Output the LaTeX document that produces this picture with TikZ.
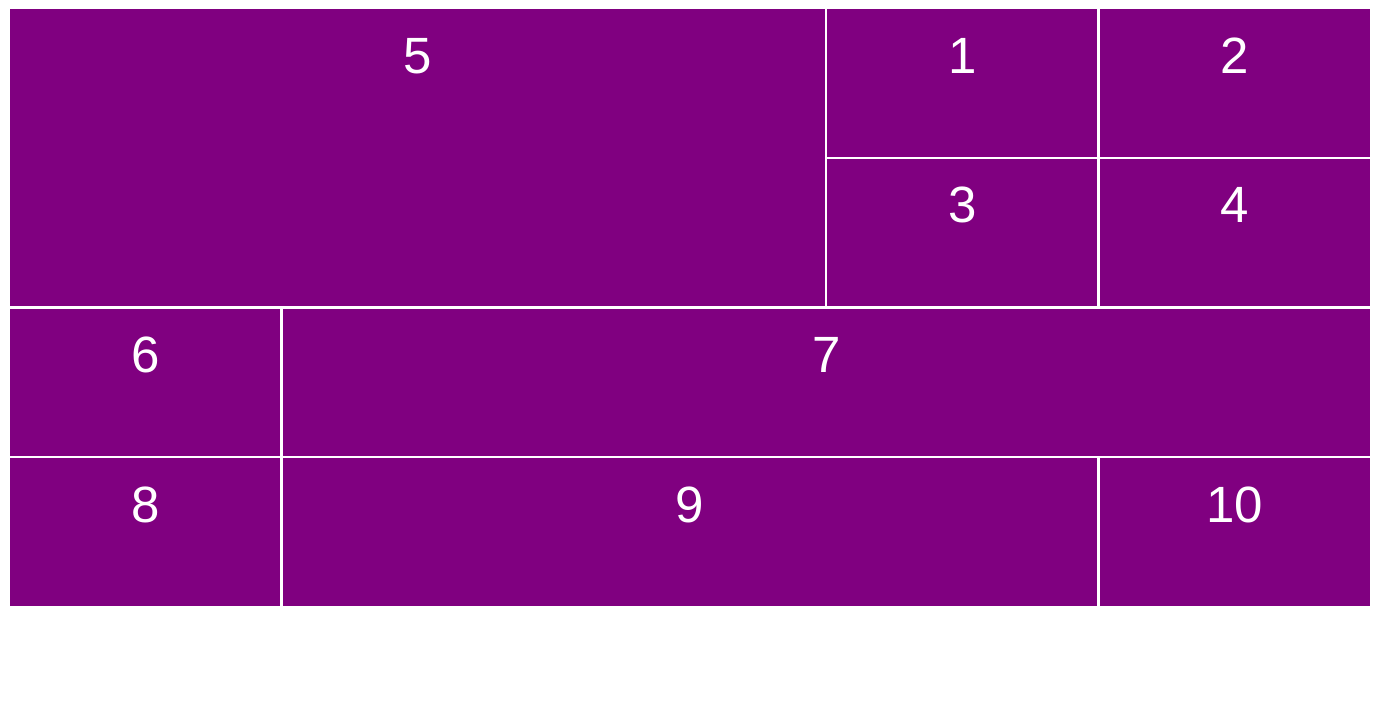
\documentclass[tikz,border=0pt]{standalone}
\usepackage{fontspec}
\setmainfont{Liberation Sans}
\definecolor{cellpurple}{HTML}{800080}
\begin{document}
\begin{tikzpicture}[x=1pt,y=-1pt,
  cell/.style={fill=cellpurple,draw=white,line width=2.4pt},
  lbl/.style={text=white,font=\fontsize{51}{51}\selectfont,anchor=base,inner sep=0pt}]
\useasboundingbox (0,0) rectangle (1381,705);
\def\ya{8}\def\yb{157.75}\def\yc{307.5}\def\yd{457.25}\def\ye{607}
\def\xa{9}\def\xb{281.4}\def\xc{553.8}\def\xd{826.2}\def\xe{1098.6}\def\xf{1371}
% cells
\path[cell] (\xa,\ya) rectangle (\xd,\yc);
\path[cell] (\xd,\ya) rectangle (\xe,\yb);
\path[cell] (\xe,\ya) rectangle (\xf,\yb);
\path[cell] (\xd,\yb) rectangle (\xe,\yc);
\path[cell] (\xe,\yb) rectangle (\xf,\yc);
\path[cell] (\xa,\yc) rectangle (\xb,\yd);
\path[cell] (\xb,\yc) rectangle (\xf,\yd);
\path[cell] (\xa,\yd) rectangle (\xb,\ye);
\path[cell] (\xb,\yd) rectangle (\xe,\ye);
\path[cell] (\xe,\yd) rectangle (\xf,\ye);
% labels
\node[lbl] (l5) at ({(\xa+\xd)/2},\ya+65) {5};
\node[lbl] (l1) at ({(\xd+\xe)/2},\ya+65) {1};
\node[lbl] (l2) at ({(\xe+\xf)/2},\ya+65) {2};
\node[lbl] (l3) at ({(\xd+\xe)/2},\yb+65) {3};
\node[lbl] (l4) at ({(\xe+\xf)/2},\yb+65) {4};
\node[lbl] (l6) at ({(\xa+\xb)/2},\yc+65) {6};
\node[lbl] (l7) at ({(\xb+\xf)/2},\yc+65) {7};
\node[lbl] (l8) at ({(\xa+\xb)/2},\yd+65) {8};
\node[lbl] (l9) at ({(\xb+\xe)/2},\yd+65) {9};
\node[lbl] (l10) at ({(\xe+\xf)/2},\yd+65) {10};
\end{tikzpicture}
\end{document}
